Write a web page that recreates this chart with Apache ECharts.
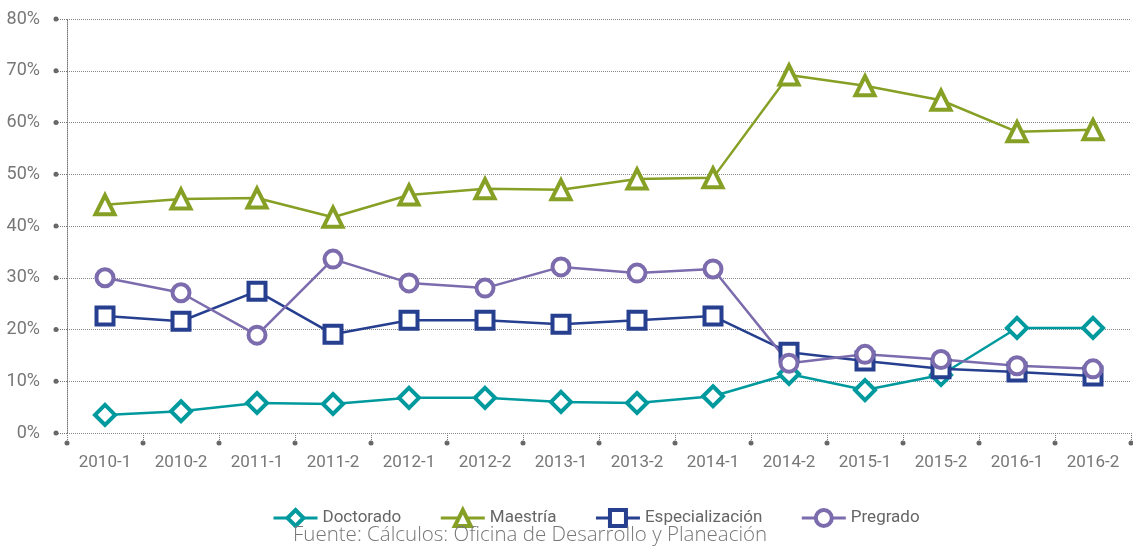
<!DOCTYPE html>
<html>
<head>
<meta charset="utf-8">
<script src="https://cdn.jsdelivr.net/npm/echarts@6/dist/echarts.min.js"></script>
<style>
  html, body { margin: 0; padding: 0; background: #fff; }
  #chart { width: 1133px; height: 547px; }
</style>
</head>
<body>
<div id="chart"></div>
<script>
const categories = ['2010-1', '2010-2', '2011-1', '2011-2', '2012-1', '2012-2', '2013-1',
  '2013-2', '2014-1', '2014-2', '2015-1', '2015-2', '2016-1', '2016-2'];
const doctorado = [3.5, 4.2, 5.8, 5.6, 6.8, 6.8, 6.0, 5.8, 7.1, 11.4, 8.3, 11.2, 20.3, 20.3];
const maestria = [44.1, 45.2, 45.4, 41.7, 46.0, 47.2, 47.0, 49.1, 49.3, 69.2, 67.1, 64.3, 58.2, 58.6];
const especializacion = [22.6, 21.6, 27.4, 19.1, 21.8, 21.8, 21.0, 21.8, 22.6, 15.6, 13.9, 12.4, 11.8, 11.0];
const pregrado = [30.0, 27.1, 18.9, 33.6, 29.0, 28.0, 32.1, 30.9, 31.7, 13.5, 15.2, 14.2, 13.0, 12.4];
const yTicks = [0, 10, 20, 30, 40, 50, 60, 70, 80];

const font = 'Roboto, sans-serif';
const gray = '#777';

const chart = echarts.init(document.getElementById('chart'));

function line(name, data, color, symbol) {
  return {
    name: name,
    type: 'line',
    data: data,
    symbol: symbol,
    symbolSize: symbol === 'diamond' ? 20 : (symbol === 'triangle' ? 19 : 17),
    showSymbol: true,
    lineStyle: {color: color, width: 2.5},
    itemStyle: {color: '#fff', borderColor: color, borderWidth: 4},
    emphasis: {disabled: true},
    z: 3
  };
}

const option = {
  animation: false,
  grid: {left: 67, right: 2, top: 19, bottom: 114},
  legend: {
    top: 503,
    left: 267,
    itemWidth: 44,
    itemHeight: 20,
    itemGap: 38,
    lineStyle: {width: 3},
    itemStyle: {borderWidth: 4},
    textStyle: {fontFamily: font, fontSize: 17, color: '#666'},
    data: ['Doctorado', 'Maestría', 'Especialización', 'Pregrado']
  },
  title: {
    text: 'Fuente: Cálculos: Oficina de Desarrollo y Planeación',
    left: 293,
    top: 525,
    padding: 0,
    textStyle: {fontFamily: '"Open Sans", sans-serif', fontWeight: 300, fontSize: 20.5, color: '#777'}
  },
  xAxis: {
    type: 'category',
    data: categories,
    boundaryGap: true,
    axisLine: {show: false},
    axisTick: {show: true, length: 10, lineStyle: {color: gray, type: 'dotted', width: 1}},
    axisLabel: {fontFamily: font, fontSize: 17, color: gray, margin: 21}
  },
  yAxis: {
    type: 'value',
    min: 0,
    max: 80,
    interval: 10,
    axisLine: {show: true, lineStyle: {color: gray, type: 'dotted', width: 1}},
    axisTick: {show: true, length: 11, lineStyle: {color: gray, type: 'dotted', width: 1}},
    axisLabel: {fontFamily: font, fontSize: 18, color: gray, margin: 27, formatter: '{value}%'},
    splitLine: {show: true, lineStyle: {color: '#888', type: 'dotted', width: 1}}
  },
  series: [
    line('Doctorado', doctorado, '#009a9e', 'diamond'),
    line('Maestría', maestria, '#86a025', 'triangle'),
    line('Especialización', especializacion, '#263f8f', 'rect'),
    line('Pregrado', pregrado, '#7c6cad', 'circle')
  ]
};

chart.setOption(option);

// small round dots at the ends of the ticks
const c0 = chart.convertToPixel({xAxisIndex: 0}, 0);
const c1 = chart.convertToPixel({xAxisIndex: 0}, 1);
const band = c1 - c0;
const y0 = chart.convertToPixel({yAxisIndex: 0}, 0);
const left = c0 - band / 2;
const dots = [];
for (let i = 0; i <= categories.length; i++) {
  dots.push({type: 'circle', shape: {cx: left + i * band, cy: y0 + 10, r: 2.5}, style: {fill: '#666'}, silent: true});
}
yTicks.forEach(v => {
  dots.push({type: 'circle', shape: {cx: left - 11, cy: chart.convertToPixel({yAxisIndex: 0}, v), r: 2.5}, style: {fill: '#666'}, silent: true});
});
chart.setOption({graphic: dots});
</script>
</body>
</html>
